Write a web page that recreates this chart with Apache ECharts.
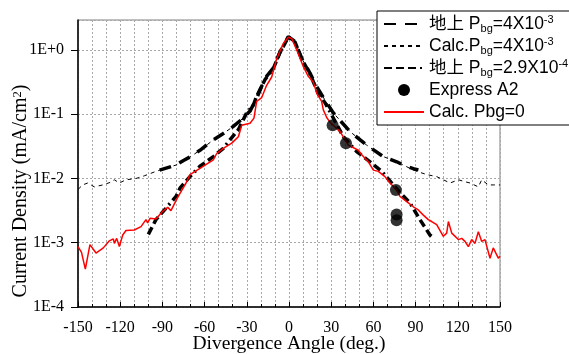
<!DOCTYPE html>
<html>
<head>
<meta charset="utf-8">
<script src="https://cdn.jsdelivr.net/npm/echarts@6/dist/echarts.min.js"></script>
<style>html,body{margin:0;padding:0;background:#fff;}#c{width:569px;height:354px;}</style>
</head>
<body>
<div id="c"></div>
<script>
// x ticks
const xTicks = [-150, -120, -90, -60, -30, 0, 30, 60, 90, 120, 150];
// y tick labels (decades)
const yTickValues = [1e-4, 1e-3, 1e-2, 1e-1, 1];
const yTickLabels = ['1E-4', '1E-3', '1E-2', '1E-1', '1E+0'];

// Series names
const seriesNames = ['地上 Pbg=4X10-3', 'Calc.Pbg=4X10-3', '地上 Pbg=2.9X10-4', 'Express A2', 'Calc. Pbg=0'];

// 地上 Pbg=4X10^-3 (measured, thick long dash)
const meas4e3 = [[-92,1.35e-2],[-87.4,1.45e-2],[-80.3,1.62e-2],[-75,1.91e-2],[-70,2.19e-2],[-63.3,2.75e-2],[-53.8,3.98e-2],[-46.7,5.01e-2],[-39.6,6.46e-2],[-32.5,8.71e-2],[-27.7,0.112],[-23,0.178],[-17,0.363],[-11.2,0.525],[-6.4,0.933],[-0.5,1.62],[4.3,1.35],[9,0.741],[14.9,0.437],[19.7,0.269],[25.6,0.166],[31.5,0.105],[43.4,0.0537],[55.2,0.0331],[67.1,0.0219],[76.6,0.0182],[81.3,0.0162],[88.4,0.0142],[92,0.0136]];

// Calc.Pbg=4X10^-3 (thin dashed)
const calc4e3 = [[-150,6.76e-3],[-146.7,7.94e-3],[-143.1,8.51e-3],[-138.4,7.41e-3],[-132.4,7.94e-3],[-127,8.71e-3],[-124.2,9.55e-3],[-120.6,8.51e-3],[-115.9,9.55e-3],[-108.8,1.0e-2],[-102.9,1.10e-2],[-94.6,1.29e-2],[-87.4,1.45e-2],[-80.3,1.62e-2],[-75,1.91e-2],[-70,2.19e-2],[-63.3,2.75e-2],[-53.8,3.98e-2],[-46.7,5.01e-2],[-39.6,6.46e-2],[-32.5,8.71e-2],[-27.7,0.112],[-23,0.178],[-17,0.363],[-11.2,0.525],[-6.4,0.933],[-0.5,1.62],[4.3,1.35],[9,0.741],[14.9,0.437],[19.7,0.269],[25.6,0.166],[31.5,0.105],[43.4,0.0537],[55.2,0.0331],[67.1,0.0219],[76.6,0.0182],[81.3,0.0162],[88.4,0.0135],[97.9,0.0115],[105,0.0107],[114.5,8.51e-3],[120.4,9.55e-3],[125.1,8.91e-3],[128.7,8.51e-3],[134.6,7.41e-3],[137,9.55e-3],[141.7,7.94e-3],[145.2,7.94e-3],[150,7.94e-3]];

// 地上 Pbg=2.9X10^-4 (measured, thick dash-dot)
const meas29e4 = [[-100,1.35e-3],[-94.6,2.29e-3],[-87.4,3.47e-3],[-80.3,5.25e-3],[-77.5,7.08e-3],[-70.4,1.07e-2],[-63.3,1.55e-2],[-53.8,2.19e-2],[-46.7,2.95e-2],[-42,3.98e-2],[-36,5.75e-2],[-30.1,0.105],[-25.4,0.138],[-23,0.191],[-17,0.347],[-11.2,0.513],[-6.4,0.912],[-0.5,1.58],[4.3,1.32],[9,0.724],[14.9,0.427],[20.8,0.209],[25.6,0.151],[30.3,0.0977],[38.6,0.0447],[48.1,0.0263],[57.6,0.0182],[65.9,0.0129],[74.2,7.94e-3],[78.9,6.03e-3],[86,4.17e-3],[93.1,2.29e-3],[100.2,1.32e-3],[101.5,1.26e-3]];

// Express A2 (points)
const expressA2 = [[31,0.0676],[40.5,0.0355],[76,6.6e-3],[76.5,2.75e-3],[76.5,2.24e-3]];

// Calc. Pbg=0 (red)
const calc0 = [[-150,8.71e-4],[-147.5,7.08e-4],[-144.8,3.89e-4],[-141.5,9.33e-4],[-137.2,6.92e-4],[-132,8.32e-4],[-127.7,1.07e-3],[-124.9,1.15e-3],[-124.2,9.77e-4],[-122.5,1.17e-3],[-120.6,8.71e-4],[-118.2,1.32e-3],[-115.9,1.55e-3],[-110,1.58e-3],[-105.2,1.78e-3],[-101.7,2.29e-3],[-100.5,2.04e-3],[-98.8,2.40e-3],[-94.6,2.34e-3],[-89.8,3.09e-3],[-86.2,3.55e-3],[-83.9,3.16e-3],[-80,4.68e-3],[-77.5,5.89e-3],[-73.2,8.51e-3],[-70.4,1.15e-2],[-63,1.45e-2],[-58,1.70e-2],[-53.8,1.95e-2],[-51.4,2.45e-2],[-46.7,2.95e-2],[-40.7,3.55e-2],[-36,4.47e-2],[-33.6,6.76e-2],[-27.7,7.24e-2],[-24.9,8.71e-2],[-23,0.158],[-19.4,0.182],[-15.9,0.282],[-12.3,0.380],[-8.8,0.724],[-4,1.26],[-0.5,1.58],[1.9,1.51],[5.5,1.0],[10.2,0.550],[13.7,0.389],[17.3,0.316],[19.7,0.214],[23.2,0.158],[24.4,0.117],[26.8,0.0891],[29,0.0759],[36.3,0.0537],[42.2,0.0331],[49.3,0.0275],[51.7,0.0234],[56.4,0.0182],[60,0.0135],[63.5,0.0129],[68.2,0.0107],[71.8,8.51e-3],[76.6,6.61e-3],[78.9,5.25e-3],[83.7,4.37e-3],[88.4,3.63e-3],[91.9,3.24e-3],[95.5,2.69e-3],[99,2.29e-3],[101.4,2.14e-3],[105,1.91e-3],[109.7,1.26e-3],[112.1,1.41e-3],[113.3,2.14e-3],[115.7,1.41e-3],[120.4,1.12e-3],[122.8,1.17e-3],[125.1,1.05e-3],[127.5,8.71e-4],[129.9,1.12e-3],[132.2,9.77e-4],[134.6,1.48e-3],[137,1.05e-3],[139.3,1.12e-3],[142.9,5.75e-4],[145.2,8.32e-4],[148.8,5.75e-4],[150,6.17e-4]];

const serif = "'Liberation Serif', 'Times New Roman', serif";
const sans = "'Liberation Sans', Arial, 'Noto Sans CJK JP', sans-serif";
function gridLine() { return {show: true, lineStyle: {type: [2, 2], color: '#a8a8a8', width: 1}}; }

const legendRich = {
  sub: {fontSize: 11, fontFamily: sans, color: '#000', lineHeight: 10, verticalAlign: 'bottom'},
  sup: {fontSize: 11, fontFamily: sans, color: '#000', lineHeight: 10, verticalAlign: 'top'}
};
const legendFormat = {
  '地上 Pbg=4X10-3': '地上 P{sub|bg}=4X10{sup|-3}',
  'Calc.Pbg=4X10-3': 'Calc.P{sub|bg}=4X10{sup|-3}',
  '地上 Pbg=2.9X10-4': '地上 P{sub|bg}=2.9X10{sup|-4}',
  'Express A2': 'Express A2',
  'Calc. Pbg=0': 'Calc. Pbg=0'
};

const chart = echarts.init(document.getElementById('c'), null, {renderer: 'canvas'});
chart.setOption({
  animation: false,
  backgroundColor: '#fff',
  grid: {left: 78, right: 69, top: 20, bottom: 47, show: true, borderColor: '#808080', borderWidth: 1,
    backgroundColor: 'transparent', containLabel: false, outerBoundsMode: 'none'},
  legend: {
    data: seriesNames.map(n => n === 'Express A2' ? {name: n, itemStyle: {opacity: 1}} : {name: n}),
    orient: 'vertical',
    left: 377, top: 11,
    itemWidth: 40, itemHeight: 12, itemGap: 2,
    padding: [3, 6, 3, 6],
    backgroundColor: '#fff', borderColor: '#000', borderWidth: 1,
    itemStyle: {opacity: 0},
    formatter: n => legendFormat[n],
    textStyle: {fontFamily: sans, fontSize: 17.5, color: '#000', lineHeight: 20, rich: legendRich}
  },
  xAxis: {
    type: 'value', min: xTicks[0], max: xTicks[xTicks.length - 1], interval: 30,
    axisLine: {onZero: false, lineStyle: {color: '#000', width: 1.5}},
    axisTick: {inside: true, length: 5, lineStyle: {color: '#000'}},
    minorTick: {show: true, splitNumber: 3, length: 3, lineStyle: {color: '#000'}},
    splitLine: gridLine(),
    minorSplitLine: gridLine(),
    axisLabel: {fontFamily: serif, fontSize: 16, color: '#000', margin: 13, interval: 0, hideOverlap: false,
      showMinLabel: true, showMaxLabel: true},
    name: 'Divergence Angle (deg.)', nameLocation: 'middle', nameGap: 27, nameMoveOverlap: false,
    nameTextStyle: {fontFamily: serif, fontSize: 19.5, color: '#000'}
  },
  yAxis: {
    type: 'log', logBase: 10, min: yTickValues[0], max: 2.93,
    axisLine: {onZero: false, lineStyle: {color: '#000', width: 1.5}},
    axisTick: {inside: false, length: 7, lineStyle: {color: '#000'}},
    splitLine: gridLine(),
    axisLabel: {
      fontFamily: serif, fontSize: 16, color: '#000', margin: 14, showMaxLabel: false, hideOverlap: false,
      formatter: v => {
        for (let i = 0; i < yTickValues.length; i++) {
          if (Math.abs(Math.log10(v) - Math.log10(yTickValues[i])) < 1e-6) return yTickLabels[i];
        }
        return '';
      }
    },
    name: 'Current Density (mA/cm{sup|2})', nameLocation: 'middle', nameGap: 47, nameRotate: 90, nameMoveOverlap: false,
    nameTextStyle: {fontFamily: serif, fontSize: 20, color: '#000', padding: [0, 55, 0, 0],
      rich: {sup: {fontFamily: serif, fontSize: 12.5, lineHeight: 10, verticalAlign: 'top', color: '#000'}}}
  },
  series: [
    {name: seriesNames[1], type: 'line', data: calc4e3, symbol: 'none', z: 2,
      lineStyle: {color: '#000', width: 1, type: [4, 4]}, itemStyle: {color: '#000'}},
    {name: seriesNames[0], type: 'line', data: meas4e3, symbol: 'none', z: 3,
      lineStyle: {color: '#000', width: 3.5, type: [12, 9]}, itemStyle: {color: '#000'}},
    {name: seriesNames[2], type: 'line', data: meas29e4, symbol: 'none', z: 3,
      lineStyle: {color: '#000', width: 3.5, type: [8, 4, 8, 4, 8, 4, 2, 4]}, itemStyle: {color: '#000'}},
    {name: seriesNames[4], type: 'line', data: calc0, symbol: 'none', z: 4,
      lineStyle: {color: '#ff0000', width: 1.5}, itemStyle: {color: '#ff0000'}},
    {name: seriesNames[3], type: 'scatter', data: expressA2, symbol: 'circle', symbolSize: 12, z: 5,
      itemStyle: {color: '#000'}}
  ]
});
</script>
</body>
</html>
